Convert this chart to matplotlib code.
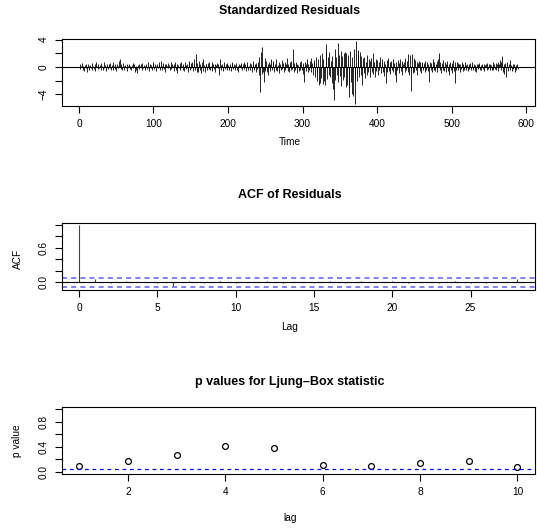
import numpy as np
import matplotlib
matplotlib.use("Agg")
import matplotlib.pyplot as plt

plt.rcParams['font.family'] = ['Liberation Sans', 'DejaVu Sans']

# ---------------- data ----------------
resid = [
 0.5,-0.3,0.2,0.6,-0.4,0.1,-0.6,0.3,0.4,-0.2,-0.7,0.5,0.2,-0.5,0.3,-0.1,0.6,-0.4,0.2,-0.3,
 0.4,-0.6,0.7,0.1,-0.3,0.5,-0.2,0.3,-0.5,0.6,0.2,-0.4,0.8,-0.1,0.3,-0.6,0.5,0.2,-0.3,0.4,
 -0.2,0.6,-0.5,0.3,0.7,-0.4,0.2,-0.3,0.5,-0.6,0.4,0.1,-0.2,0.9,1.2,-0.3,0.4,-0.5,0.6,0.2,
 -0.4,0.3,-0.2,0.5,-0.6,0.1,0.4,-0.3,0.2,-0.5,0.3,0.6,-0.2,0.4,-0.7,0.2,-0.4,-0.95,0.3,0.5,
 -0.3,0.2,0.4,-0.5,0.6,-0.2,0.3,0.1,-0.4,0.5,-0.3,0.7,0.2,-0.6,0.4,-0.1,0.3,-0.4,0.6,0.8,
 -0.3,0.5,0.2,-0.6,0.4,-0.2,0.7,0.3,-0.5,0.9,-0.4,0.2,0.6,-0.3,0.5,-0.7,0.4,0.1,-0.2,0.6,
 0.3,-0.5,0.8,-0.3,0.5,0.2,-0.6,0.4,0.7,-0.4,-0.95,0.5,0.3,-0.2,0.6,-0.5,0.8,0.2,-0.4,0.5,
 -0.6,0.7,0.3,-0.3,0.5,-0.7,0.9,0.4,-0.5,0.6,-0.2,0.8,-0.6,0.5,1.1,-0.4,1.95,-0.7,0.6,-0.8,
 0.9,-0.5,0.4,-0.9,0.7,1.2,-0.6,0.3,-0.8,0.5,0.4,-0.4,0.6,-0.3,0.7,-0.5,0.2,0.8,-0.6,0.4,
 -0.3,0.5,-0.7,0.3,0.6,-0.2,0.4,-1.2,1.1,0.3,-0.4,0.5,-0.6,0.2,0.7,-0.3,0.4,-0.5,0.6,0.3,
 -0.4,0.5,0.2,-0.6,0.4,0.7,-0.3,0.5,-0.5,0.3,0.6,-0.4,0.2,-0.7,0.5,0.3,-0.2,0.6,-0.5,0.4,
 0.7,-0.3,0.5,-0.6,0.3,0.8,-0.4,0.2,0.6,-0.5,0.4,-0.7,0.3,0.9,-0.4,0.5,-0.8,0.6,-0.3,0.7,
 -1.2,1.5,-3.6,2.2,-1.0,3.0,-0.8,-2.2,1.3,-0.6,0.9,-0.7,0.5,-1.1,0.8,0.4,-0.6,1.2,-0.5,0.7,
 0.9,-0.8,0.5,-0.4,1.1,-0.6,0.3,-0.9,0.7,0.4,-0.5,1.0,-0.3,0.6,-0.7,0.8,-0.4,0.5,1.3,-0.6,
 0.4,-0.8,0.7,-0.5,0.9,-0.3,2.65,-0.7,0.6,-0.4,0.8,-0.9,0.5,0.3,-0.6,0.7,-0.5,0.9,-0.4,0.6,
 -1.0,-2.2,0.8,-0.6,0.5,1.1,-0.7,0.4,-0.5,0.9,1.3,-0.8,0.6,-1.2,1.0,0.7,-1.5,1.4,-0.9,-2.0,
 1.2,-2.7,1.8,-2.3,-1.6,2.0,-2.5,1.1,-2.1,-2.7,2.4,3.3,-1.8,1.5,-1.2,2.2,-1.5,0.9,-2.4,1.6,
 -3.2,-4.85,2.6,-1.9,1.4,-1.1,3.45,-2.2,1.7,-1.3,2.4,-2.8,1.6,-1.9,2.0,-1.4,2.15,-3.0,2.0,-2.6,
 1.8,-3.1,-4.45,2.4,-2.2,-3.9,1.5,-4.2,2.6,-1.8,-5.45,3.8,-2.0,2.5,1.9,-1.5,2.2,-1.2,1.6,-2.7,
 1.3,-0.9,1.5,-1.6,0.8,-1.2,1.7,-0.7,1.1,-1.4,0.9,1.3,-0.8,2.1,-1.0,0.7,-1.5,1.2,-0.6,1.0,
 -1.1,0.8,-0.5,1.4,-0.9,0.6,1.2,-0.7,0.9,-1.3,0.5,-2.4,1.0,-0.8,1.3,-0.6,0.7,-1.0,0.9,-0.5,
 1.1,-0.7,0.6,-1.2,-2.2,0.8,-0.5,1.0,-0.9,0.6,1.2,-0.6,0.9,-1.1,0.5,0.8,-0.7,1.3,-0.4,0.9,
 -0.8,1.9,-1.2,1.8,-0.6,-3.45,1.9,-0.9,1.3,-0.7,1.0,-0.5,0.8,-1.1,0.6,0.9,-0.6,0.7,-0.9,0.5,
 0.8,-0.4,0.6,-0.7,0.9,-0.5,0.7,0.4,-0.6,-2.2,0.8,-0.5,0.6,-0.8,1.1,-0.4,0.7,-0.6,0.5,0.9,
 -0.7,1.2,2.0,-0.5,0.8,-0.9,0.6,-0.4,1.0,-0.6,0.7,-0.8,0.5,0.9,-0.6,0.4,-1.2,0.7,-0.5,0.6,
 -0.9,1.0,-0.6,-2.3,0.8,-0.4,0.7,-0.5,0.6,0.4,-0.7,0.5,-0.3,0.8,-0.6,0.4,-0.5,0.7,0.3,-0.4,
 0.5,-0.6,0.4,-0.3,0.6,-0.5,0.3,0.7,-0.4,0.5,-0.6,0.3,-0.8,0.4,0.5,-0.3,0.6,-0.4,0.3,-0.5,
 0.4,-0.3,0.5,-0.6,0.3,0.4,-0.5,0.6,-0.3,0.4,-0.4,0.5,0.3,-0.5,0.7,-0.4,0.4,-0.3,0.6,-0.5,
 0.4,0.8,-0.6,0.5,1.0,-0.4,0.7,1.6,-0.7,0.5,-1.0,0.6,-1.5,0.8,0.4,-0.6,0.5,1.0,-0.5,0.3,
 -0.6,0.4,-0.3,0.5,-0.8,0.3,-0.5,0.4,-0.3,
]
time = np.arange(1, len(resid) + 1)

acf_lags = np.arange(0, 29)
acf_vals = [1.0, 0.065, -0.01, 0.02, 0.01, -0.015, -0.07, 0.025, -0.01, 0.015,
            -0.02, 0.01, 0.02, -0.015, 0.01, -0.02, 0.015, -0.01, 0.02, 0.01,
            0.03, -0.015, 0.01, -0.02, 0.015, -0.01, -0.02, 0.01, 0.065]
acf_ci = 0.0807

lb_lags = np.arange(1, 11)
lb_pvals = [0.098, 0.172, 0.275, 0.42, 0.387, 0.108, 0.087, 0.135, 0.178, 0.082]

res_xticks = [0, 100, 200, 300, 400, 500, 600]
res_yticks = [-4, -2, 0, 2, 4]
res_ylabels = ['\u22124', '', '0', '', '4']
acf_xticks = [0, 5, 10, 15, 20, 25]
acf_yticks = [0.0, 0.2, 0.4, 0.6, 0.8, 1.0]
acf_ylabels = ['0.0', '', '', '0.6', '', '']
lb_xticks = [2, 4, 6, 8, 10]
lb_yticks = [0.0, 0.2, 0.4, 0.6, 0.8, 1.0]
lb_ylabels = ['0.0', '', '0.4', '', '0.8', '']

# ---------------- layout ----------------
W, H = 537, 531
fig = plt.figure(figsize=(W / 100, H / 100), dpi=100)
FS = 7.3
TFS = 9.0


def add(left, top, right, bottom):
    return fig.add_axes([left / W, 1 - bottom / H, (right - left) / W, (bottom - top) / H])


def style(ax):
    for s in ax.spines.values():
        s.set_linewidth(0.8)
        s.set_color('black')
    ax.tick_params(axis='both', direction='out', length=5, width=0.8,
                   labelsize=FS, pad=4.5, colors='black')
    ax.tick_params(axis='y', labelrotation=90)
    for lab in ax.get_yticklabels():
        lab.set_va('center')


def ftext(x, y, s, **kw):
    fig.text(x / W, 1 - y / H, s, ha='center', va='center', **kw)


L, R = 61.7, 535
cx = 290  # centre used by the reference for titles / axis labels

# Panel 1: standardized residuals
ax1 = add(L, 39, R, 105.7)
ax1.vlines(time, 0, resid, color='black', lw=0.6)
ax1.axhline(0, color='black', lw=0.8)
ax1.set_xlim(-23.2, 612)
ax1.set_ylim(-5.67, 4.1)
ax1.set_xticks(res_xticks)
ax1.set_yticks(res_yticks)
ax1.set_yticklabels(res_ylabels)
style(ax1)
ftext(cx, 11.5, 'Standardized Residuals', fontsize=TFS, fontweight='bold')
ftext(cx, 142, 'Time', fontsize=FS)

# Panel 2: ACF
ax2 = add(L, 222.7, R, 290)
ax2.vlines(acf_lags, 0, acf_vals, color='#444444', lw=0.8)
ax2.axhline(0, color='black', lw=0.8)
for c in (acf_ci, -acf_ci):
    ax2.axhline(c, color='#6a6aff', lw=1.2, ls=(0, (3, 2.5)))
ax2.set_xlim(-1.12, 29.12)
ax2.set_ylim(-0.135, 1.04)
ax2.set_xticks(acf_xticks)
ax2.set_yticks(acf_yticks)
ax2.set_yticklabels(acf_ylabels)
style(ax2)
ftext(cx, 195, 'ACF of Residuals', fontsize=TFS, fontweight='bold')
ftext(cx, 327, 'Lag', fontsize=FS)
ftext(17.5, 259, 'ACF', fontsize=FS, rotation=90)

# Panel 3: Ljung-Box p values
ax3 = add(L, 406.7, R, 474.3)
ax3.plot(lb_lags, lb_pvals, 'o', mfc='none', mec='black', mew=0.9, ms=4.2)
ax3.axhline(0.05, color='blue', lw=0.9, ls=(0, (3, 3)))
ax3.set_xlim(0.64, 10.36)
ax3.set_ylim(-0.04, 1.04)
ax3.set_xticks(lb_xticks)
ax3.set_yticks(lb_yticks)
ax3.set_yticklabels(lb_ylabels)
style(ax3)
ftext(cx, 382.5, 'p values for Ljung\u2013Box statistic', fontsize=TFS, fontweight='bold')
ftext(cx, 518.3, 'lag', fontsize=FS)
ftext(17.5, 440.8, 'p value', fontsize=FS, rotation=90)

fig.savefig('out.png', dpi=100)
